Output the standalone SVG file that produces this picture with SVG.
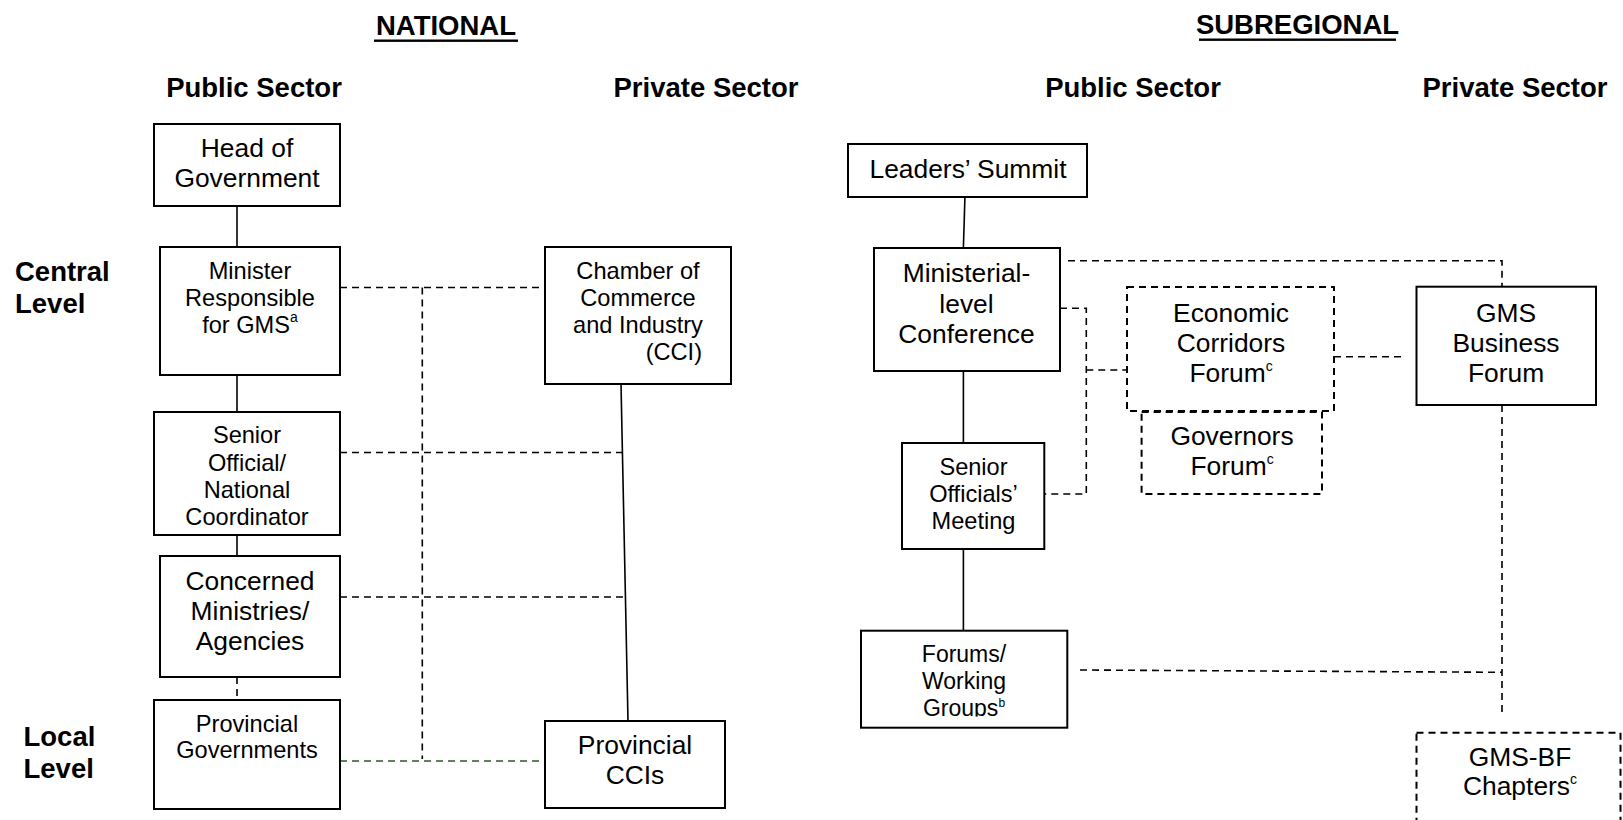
<svg xmlns="http://www.w3.org/2000/svg" width="1623" height="820" viewBox="0 0 1623 820">
<style>
  text { font-family: "Liberation Sans", Arial, sans-serif; fill: #000; }
  .h { font-size: 27.5px; font-weight: bold; }
  .hc { font-size: 27.5px; font-weight: bold; text-anchor: middle; }
  .L { font-size: 26.4px; text-anchor: middle; }
  .S { font-size: 23.6px; text-anchor: middle; }
  .sup { font-size: 14px; }
  .box { fill: #fff; stroke: #000; stroke-width: 2; }
  .dbox { fill: #fff; stroke: #000; stroke-width: 2; stroke-dasharray: 7 5; }
  .solid { fill: none; stroke: #000; stroke-width: 1.6; }
  .dash { fill: none; stroke: #000; stroke-width: 1.6; stroke-dasharray: 7 5; }
  .gdash { fill: none; stroke: #2b5a2b; stroke-width: 1.6; stroke-dasharray: 7 5; }
</style>
<defs>
  <clipPath id="clipForums"><rect x="861" y="630" width="207" height="86.5"/></clipPath>
</defs>
<rect width="1623" height="820" fill="#fff"/>

<g id="headings">
  <text class="hc" x="446" y="35">NATIONAL</text>
  <rect x="374" y="39.5" width="144" height="2.4" fill="#000"/>
  <text class="hc" x="1297.5" y="34">SUBREGIONAL</text>
  <rect x="1199" y="38.5" width="197" height="2.4" fill="#000"/>
  <text class="hc" x="254" y="96.5">Public Sector</text>
  <text class="hc" x="706" y="96.5">Private Sector</text>
  <text class="hc" x="1133" y="96.5">Public Sector</text>
  <text class="hc" x="1515" y="96.5">Private Sector</text>
  <text class="h" x="15" y="280.7">Central</text>
  <text class="h" x="15" y="312.7">Level</text>
  <text class="h" x="23.5" y="745.7">Local</text>
  <text class="h" x="23.5" y="778.3">Level</text>
</g>

<g id="connectors">
  <line class="solid" x1="237" y1="206" x2="237" y2="247"/>
  <line class="solid" x1="237" y1="375" x2="237" y2="412"/>
  <line class="solid" x1="237" y1="535" x2="237" y2="556"/>
  <line class="dash" x1="237" y1="677" x2="237" y2="700"/>
  <line class="dash" x1="340" y1="287.5" x2="545" y2="287.5"/>
  <line class="dash" x1="422.3" y1="287.5" x2="422.3" y2="759"/>
  <line class="dash" x1="340" y1="452.5" x2="627" y2="452.5"/>
  <line class="dash" x1="340" y1="597" x2="627" y2="597"/>
  <line class="gdash" x1="340" y1="761" x2="545" y2="761"/>
  <line class="solid" x1="621" y1="384" x2="628" y2="721"/>

  <line class="solid" x1="965" y1="195" x2="963.4" y2="248"/>
  <line class="solid" x1="963.4" y1="371" x2="963.4" y2="443"/>
  <line class="solid" x1="963.4" y1="549" x2="963.4" y2="630.7"/>
  <path class="dash" d="M1068 260.7 H1502 V286.7"/>
  <path class="dash" d="M1060 308.3 H1086.3 V494 H1044.3"/>
  <line class="dash" x1="1086.3" y1="370" x2="1127" y2="370"/>
  <line class="dash" x1="1334" y1="356.7" x2="1406" y2="356.7"/>
  <line class="dash" x1="1502" y1="405" x2="1502" y2="716.7"/>
  <line class="dash" x1="1080" y1="670" x2="1502" y2="672.3"/>
</g>

<g id="head-of-government">
  <rect class="box" x="154" y="124" width="186" height="82"/>
  <text class="L" x="247" y="157">Head of</text>
  <text class="L" x="247" y="187">Government</text>
</g>
<g id="minister">
  <rect class="box" x="160" y="247" width="180" height="128"/>
  <text class="S" x="250" y="279">Minister</text>
  <text class="S" x="250" y="306">Responsible</text>
  <text class="S" x="250" y="333">for GMS<tspan class="sup" dy="-11">a</tspan></text>
</g>
<g id="senior-official">
  <rect class="box" x="154" y="412" width="186" height="123"/>
  <text class="S" x="247" y="442.7">Senior</text>
  <text class="S" x="247" y="470.7">Official/</text>
  <text class="S" x="247" y="498.3">National</text>
  <text class="S" x="247" y="525">Coordinator</text>
</g>
<g id="concerned-ministries">
  <rect class="box" x="160" y="556" width="180" height="121"/>
  <text class="L" x="250" y="590">Concerned</text>
  <text class="L" x="250" y="620">Ministries/</text>
  <text class="L" x="250" y="650">Agencies</text>
</g>
<g id="provincial-governments">
  <rect class="box" x="154" y="700" width="186" height="109"/>
  <text class="S" x="247" y="731.7">Provincial</text>
  <text class="S" x="247" y="758.3">Governments</text>
</g>
<g id="chamber">
  <rect class="box" x="545" y="247" width="186" height="137"/>
  <text class="S" x="638" y="279">Chamber of</text>
  <text class="S" x="638" y="306">Commerce</text>
  <text class="S" x="638" y="333">and Industry</text>
  <text class="S" x="702" y="360" style="text-anchor:end">(CCI)</text>
</g>
<g id="provincial-ccis">
  <rect class="box" x="545" y="721" width="180" height="87"/>
  <text class="L" x="635" y="754">Provincial</text>
  <text class="L" x="635" y="784">CCIs</text>
</g>

<g id="leaders-summit">
  <rect class="box" x="848" y="144" width="239" height="53"/>
  <text class="L" x="968" y="178.3">Leaders’ Summit</text>
</g>
<g id="ministerial-conference">
  <rect class="box" x="874" y="248" width="186" height="123"/>
  <text class="L" x="966.5" y="282">Ministerial-</text>
  <text class="L" x="966.5" y="312.5">level</text>
  <text class="L" x="966.5" y="343">Conference</text>
</g>
<g id="economic-corridors-forum">
  <rect class="dbox" x="1127" y="287" width="207" height="124"/>
  <text class="L" x="1231" y="321.7">Economic</text>
  <text class="L" x="1231" y="351.7">Corridors</text>
  <text class="L" x="1231" y="381.7">Forum<tspan class="sup" dy="-11">c</tspan></text>
</g>
<g id="governors-forum">
  <rect class="dbox" x="1141.6" y="412" width="180.4" height="82"/>
  <text class="L" x="1232" y="445">Governors</text>
  <text class="L" x="1232" y="475">Forum<tspan class="sup" dy="-11">c</tspan></text>
</g>
<g id="gms-business-forum">
  <rect class="box" x="1416.5" y="286.7" width="179.5" height="118.3"/>
  <text class="L" x="1506" y="321.7">GMS</text>
  <text class="L" x="1506" y="351.7">Business</text>
  <text class="L" x="1506" y="381.7">Forum</text>
</g>
<g id="senior-officials-meeting">
  <rect class="box" x="902" y="443" width="142.3" height="106"/>
  <text class="S" x="973.5" y="475">Senior</text>
  <text class="S" x="973.5" y="501.7">Officials’</text>
  <text class="S" x="973.5" y="529.3">Meeting</text>
</g>
<g id="forums-working-groups">
  <rect class="box" x="861" y="630.7" width="206.3" height="97"/>
  <g clip-path="url(#clipForums)">
    <text class="S" x="964" y="661.7" style="font-size:23px">Forums/</text>
    <text class="S" x="964" y="688.5" style="font-size:23px">Working</text>
    <text class="S" x="964" y="715.5" style="font-size:23px">Groups<tspan style="font-size:12px" dy="-9">b</tspan></text>
  </g>
</g>
<g id="gms-bf-chapters">
  <rect class="dbox" x="1416.5" y="732.7" width="204" height="100"/>
  <text class="L" x="1520" y="765.7">GMS-BF</text>
  <text class="L" x="1520" y="795">Chapters<tspan class="sup" dy="-11">c</tspan></text>
</g>
</svg>
